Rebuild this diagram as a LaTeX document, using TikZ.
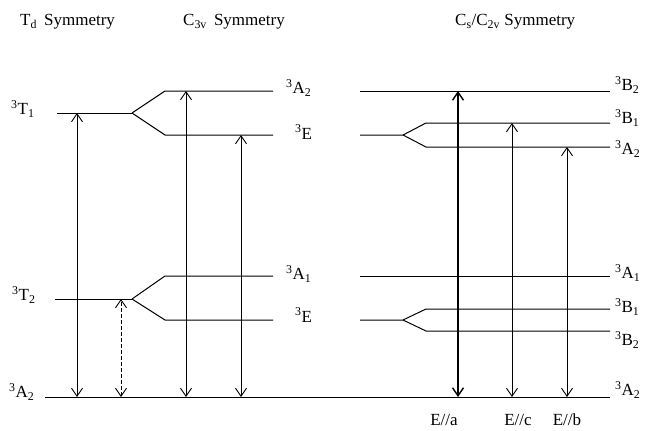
\documentclass[tikz,border=0pt]{standalone}
\usepackage{fontspec}
\setmainfont{Liberation Serif}
\usetikzlibrary{arrows.meta}
\begin{document}
\begin{tikzpicture}[x=1pt,y=-1pt,
  lvl/.style={line width=1pt},
  tr/.style={line width=0.9pt,{Straight Barb[length=8pt,width=11pt]}-{Straight Barb[length=8pt,width=11pt]}},
  lab/.style={font=\fontsize{17}{19}\selectfont,inner sep=0pt,anchor=west},
  ttl/.style={font=\fontsize{17}{19}\selectfont,inner sep=0pt},
  blab/.style={font=\fontsize{17}{19}\selectfont,inner sep=0pt}]
\useasboundingbox (0,0) rectangle (649,431);
% titles
\node[ttl,anchor=west] (t1) at (20,22) {T\textsubscript{d}\, Symmetry};
\node[ttl,anchor=west] (t2) at (183,22) {C\textsubscript{3v}\, Symmetry};
\node[ttl,anchor=west] (t3) at (455,22) {C\textsubscript{s}/C\textsubscript{2v} Symmetry};
% ground
\coordinate (g0) at (45,397); \coordinate (g1) at (610,397);
\draw[lvl] (g0) -- (g1);
% Td levels
\coordinate (T1a) at (57,113); \coordinate (T1b) at (132,113);
\coordinate (T2a) at (55,299); \coordinate (T2b) at (132,299);
\draw[lvl] (T1a) -- (T1b);
\draw[lvl] (T2a) -- (T2b);
% C3v levels
\coordinate (A2s) at (165,91); \coordinate (A2e) at (273,91);
\coordinate (E1s) at (165,135); \coordinate (E1e) at (273,135);
\coordinate (A1s) at (165,276); \coordinate (A1e) at (273,276);
\coordinate (E2s) at (165,320); \coordinate (E2e) at (273,320);
\draw[lvl] (T1b) -- (A2s) -- (A2e);
\draw[lvl] (T1b) -- (E1s) -- (E1e);
\draw[lvl] (T2b) -- (A1s) -- (A1e);
\draw[lvl] (T2b) -- (E2s) -- (E2e);
% Cs/C2v levels
\coordinate (rB2s) at (360,91); \coordinate (rB2e) at (610,91);
\coordinate (rE1s) at (360,135); \coordinate (rE1m) at (403,135);
\coordinate (rB1s) at (426,123); \coordinate (rB1e) at (610,123);
\coordinate (rA2s) at (426,147); \coordinate (rA2e) at (610,147);
\coordinate (rA1s) at (360,276); \coordinate (rA1e) at (610,276);
\coordinate (rE2s) at (360,320); \coordinate (rE2m) at (403,320);
\coordinate (rb1s) at (426,309); \coordinate (rb1e) at (610,309);
\coordinate (rb2s) at (426,331); \coordinate (rb2e) at (610,331);
\draw[lvl] (rB2s) -- (rB2e);
\draw[lvl] (rE1s) -- (rE1m) -- (rB1s) -- (rB1e);
\draw[lvl] (rE1m) -- (rA2s) -- (rA2e);
\draw[lvl] (rA1s) -- (rA1e);
\draw[lvl] (rE2s) -- (rE2m) -- (rb1s) -- (rb1e);
\draw[lvl] (rE2m) -- (rb2s) -- (rb2e);
% labels Td
\node[lab] (lT1) at (11,109) {\textsuperscript{3}T\textsubscript{1}};
\node[lab] (lT2) at (12,295) {\textsuperscript{3}T\textsubscript{2}};
\node[lab] (lG) at (9,392) {\textsuperscript{3}A\textsubscript{2}};
% labels C3v
\node[lab] (lA2) at (286,88) {\textsuperscript{3}A\textsubscript{2}};
\node[lab] (lE1) at (295,132) {\textsuperscript{3}E};
\node[lab] (lA1) at (286,274) {\textsuperscript{3}A\textsubscript{1}};
\node[lab] (lE2) at (295,315) {\textsuperscript{3}E};
% labels right
\node[lab] (rlB2) at (615,85) {\textsuperscript{3}B\textsubscript{2}};
\node[lab] (rlB1) at (615,118) {\textsuperscript{3}B\textsubscript{1}};
\node[lab] (rlA2) at (615,149) {\textsuperscript{3}A\textsubscript{2}};
\node[lab] (rlA1) at (615,273) {\textsuperscript{3}A\textsubscript{1}};
\node[lab] (rlb1) at (615,307) {\textsuperscript{3}B\textsubscript{1}};
\node[lab] (rlb2) at (615,340) {\textsuperscript{3}B\textsubscript{2}};
\node[lab] (rlG) at (615,390) {\textsuperscript{3}A\textsubscript{2}};
% transitions
\coordinate (a1t) at (77,113); \coordinate (a1b) at (77,397);
\coordinate (a2t) at (121,299); \coordinate (a2b) at (121,397);
\coordinate (a3t) at (186,91); \coordinate (a3b) at (186,397);
\coordinate (a4t) at (241,135); \coordinate (a4b) at (241,397);
\coordinate (a5t) at (458,91); \coordinate (a5b) at (458,397);
\coordinate (a6t) at (512,123); \coordinate (a6b) at (512,397);
\coordinate (a7t) at (567,147); \coordinate (a7b) at (567,397);
\draw[tr] (a1b) -- (a1t);
\draw[tr,dashed,dash pattern=on 4pt off 2pt] (a2b) -- (a2t);
\draw[tr] (a3b) -- (a3t);
\draw[tr] (a4b) -- (a4t);
\draw[tr,line width=1.4pt] (a5b) -- (a5t);
\draw[tr] (a6b) -- (a6t);
\draw[tr] (a7b) -- (a7t);
% bottom labels
\node[blab] (ea) at (444,420) {E//a};
\node[blab] (ec) at (518,420) {E//c};
\node[blab] (eb) at (567,420) {E//b};
\end{tikzpicture}
\end{document}
